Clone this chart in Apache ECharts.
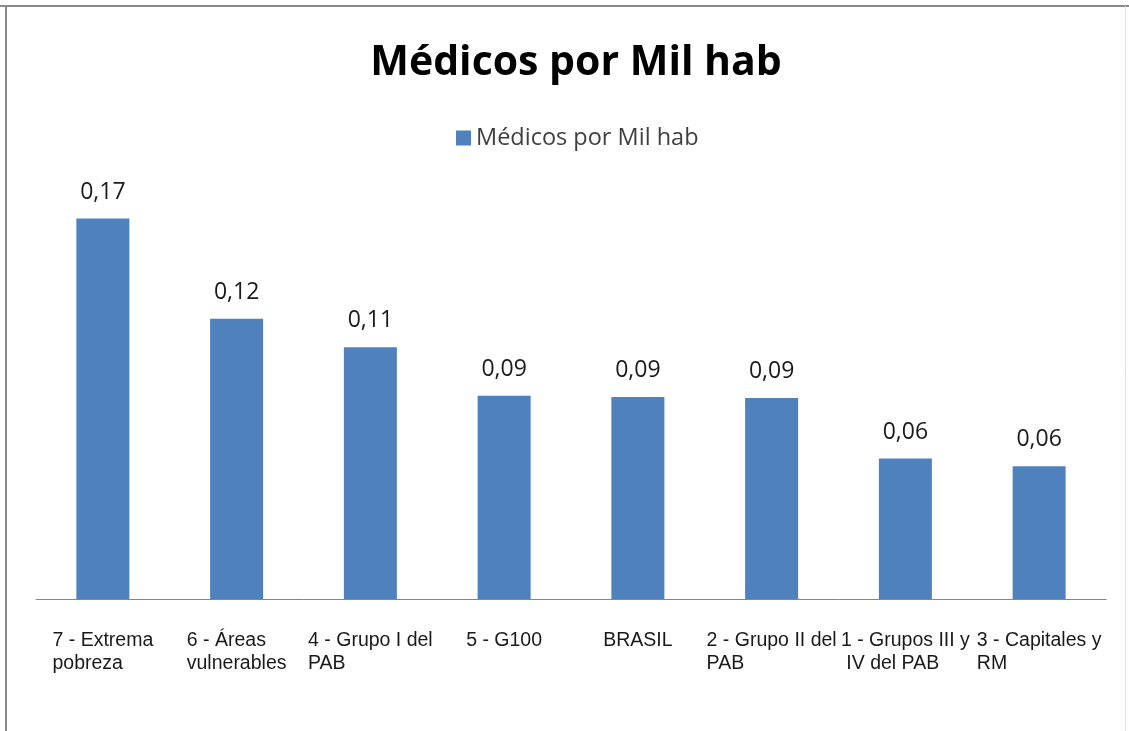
<!DOCTYPE html>
<html>
<head>
<meta charset="utf-8">
<title>Médicos por Mil hab</title>
<script src="https://cdn.jsdelivr.net/npm/echarts@6/dist/echarts.min.js"></script>
<style>
  html, body { margin: 0; padding: 0; background: #fff; }
  #main { width: 1129px; height: 731px; }
</style>
</head>
<body>
<div id="main"></div>
<script>
// categorias (eje x)
var categorias = [
    '7 - Extrema\npobreza',
    '6 - Áreas\nvulnerables',
    '4 - Grupo I del\nPAB',
    '5 - G100',
    'BRASIL',
    '2 - Grupo II del\nPAB',
    '1 - Grupos III y\n IV del PAB',
    '3 - Capitales y\nRM'
];
// valores
var medicos = [0.167, 0.123, 0.1105, 0.0892, 0.0887, 0.0882, 0.0617, 0.0583];
var serieNombre = 'Médicos por Mil hab';

var chart = echarts.init(document.getElementById('main'));

var option = {
    backgroundColor: '#ffffff',
    animation: false,
    title: {
        text: 'Médicos por Mil hab',
        left: 571,
        top: 38,
        textAlign: 'center',
        textStyle: {
            fontFamily: 'Open Sans',
            fontWeight: 'bold',
            fontSize: 41,
            color: '#000'
        }
    },
    legend: {
        data: [serieNombre],
        left: 451,
        top: 121,
        icon: 'rect',
        itemWidth: 15,
        itemHeight: 15,
        textStyle: {
            fontFamily: 'Open Sans',
            fontSize: 23.5,
            color: '#404040'
        }
    },
    grid: {
        left: 36,
        right: 23,
        top: 189,
        bottom: 132
    },
    xAxis: {
        type: 'category',
        data: categorias,
        axisTick: { show: false },
        axisLine: {
            lineStyle: { color: '#868686', width: 1 }
        },
        axisLabel: {
            interval: 0,
            margin: 30,
            formatter: function (v) {
                return '{a|' + v + '}';
            },
            rich: {
                a: {
                    align: 'left',
                    fontFamily: 'Liberation Sans',
                    fontSize: 19.5,
                    lineHeight: 23,
                    color: '#1a1a1a'
                }
            }
        }
    },
    yAxis: {
        type: 'value',
        min: 0,
        max: 0.18,
        show: false,
        splitLine: { show: false }
    },
    series: [
        {
            name: serieNombre,
            type: 'bar',
            barWidth: 53,
            data: medicos,
            itemStyle: { color: '#4f81bd' },
            label: {
                show: true,
                position: 'top',
                distance: 15,
                fontFamily: 'Open Sans',
                fontSize: 23,
                color: '#1a1a1a',
                formatter: function (p) {
                    return p.value.toFixed(2).replace('.', ',');
                }
            }
        }
    ],
    graphic: [
        // marco del grafico
        { type: 'line', shape: { x1: 0, y1: 6, x2: 1129, y2: 6 }, style: { stroke: '#8a8a8a', lineWidth: 2 } },
        { type: 'line', shape: { x1: 6, y1: 6, x2: 6, y2: 731 }, style: { stroke: '#8a8a8a', lineWidth: 2 } },
        { type: 'line', shape: { x1: 1125.5, y1: 6, x2: 1125.5, y2: 731 }, style: { stroke: '#e2e2e2', lineWidth: 1 } }
    ]
};

chart.setOption(option);
</script>
</body>
</html>
